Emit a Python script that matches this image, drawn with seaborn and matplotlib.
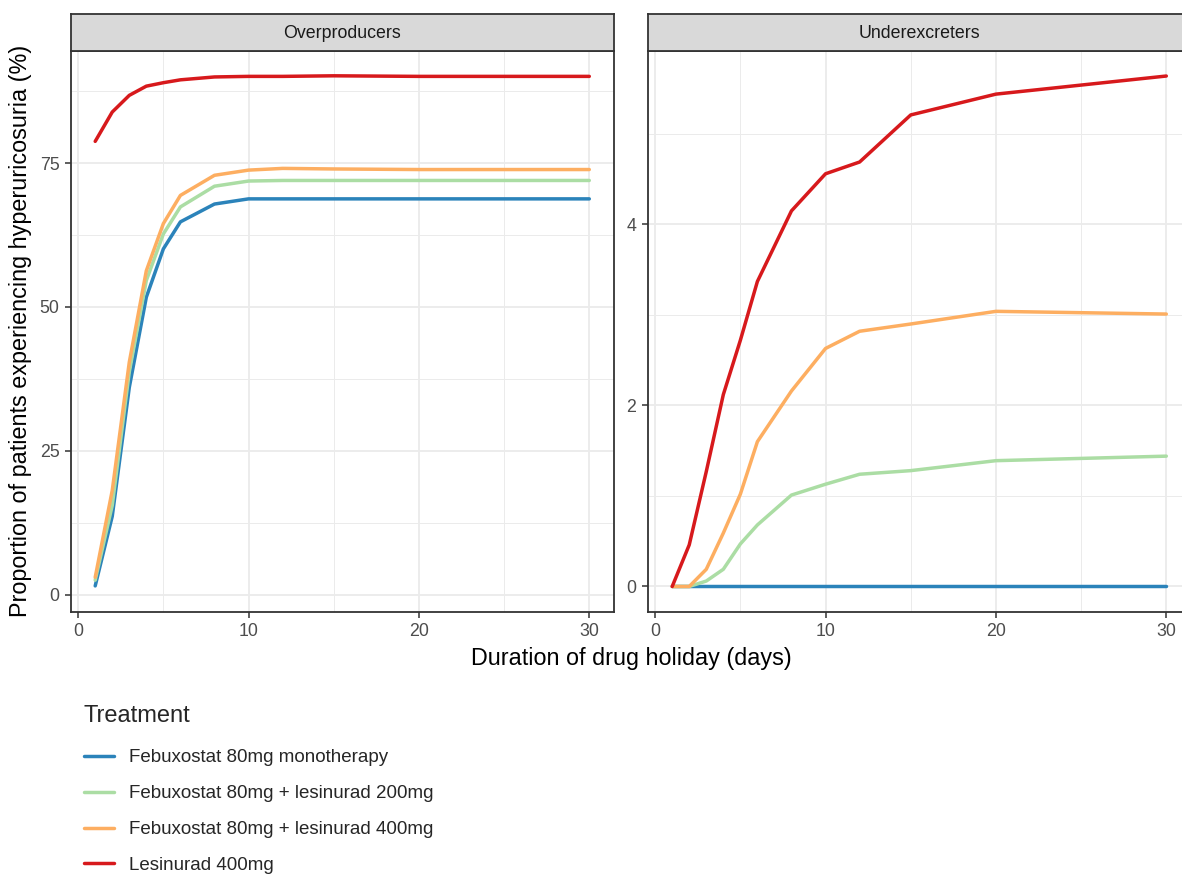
import numpy as np
import pandas as pd
import matplotlib
matplotlib.use("Agg")
import matplotlib.pyplot as plt
from matplotlib.lines import Line2D
from matplotlib.ticker import FixedLocator
import seaborn as sns

# ---------------- data ----------------
days = [1, 2, 3, 4, 5, 6, 8, 10, 12, 15, 20, 30]

treatments = [
    "Febuxostat 80mg monotherapy",
    "Febuxostat 80mg + lesinurad 200mg",
    "Febuxostat 80mg + lesinurad 400mg",
    "Lesinurad 400mg",
]
colors = ["#2B83BA", "#ABDDA4", "#FDAE61", "#D7191C"]
facets = ["Overproducers", "Underexcreters"]

# Overproducers (%)
over_feb = [1.5, 13.6, 36.0, 51.7, 60.1, 64.8, 67.9, 68.8, 68.8, 68.8, 68.8, 68.8]
over_l200 = [2.5, 15.5, 38.7, 54.6, 62.7, 67.4, 71.0, 71.9, 72.0, 72.0, 72.0, 72.0]
over_l400 = [3.0, 18.1, 40.4, 56.3, 64.5, 69.4, 72.9, 73.8, 74.1, 74.0, 73.9, 73.9]
over_les = [78.8, 83.9, 86.8, 88.4, 89.0, 89.5, 90.0, 90.1, 90.1, 90.2, 90.1, 90.1]

# Underexcreters (%)
under_feb = [0, 0, 0, 0, 0, 0, 0, 0, 0, 0, 0, 0]
under_l200 = [0, 0, 0.06, 0.19, 0.47, 0.68, 1.01, 1.13, 1.24, 1.28, 1.39, 1.44]
under_l400 = [0, 0, 0.19, 0.59, 1.02, 1.60, 2.16, 2.63, 2.82, 2.90, 3.04, 3.01]
under_les = [0, 0.46, 1.27, 2.12, 2.72, 3.37, 4.15, 4.56, 4.69, 5.21, 5.44, 5.64]

series = {
    "Overproducers": [over_feb, over_l200, over_l400, over_les],
    "Underexcreters": [under_feb, under_l200, under_l400, under_les],
}

rows = []
for facet in facets:
    for t, vals in zip(treatments, series[facet]):
        for d, v in zip(days, vals):
            rows.append({"facet": facet, "day": d, "value": v, "Treatment": t})
df = pd.DataFrame(rows)

palette = dict(zip(treatments, colors))

# ---------------- style ----------------
sns.set_theme(style="white")
plt.rcParams["font.family"] = ["Liberation Sans", "DejaVu Sans"]

W, H = 1182, 874
fig = plt.figure(figsize=(W / 100, H / 100), dpi=100)

def fx(px):
    return px / W

def fy(py):
    return 1 - py / H

panel_top, panel_bot = 50.5, 612.0
strip_top = 13.7
panel_w = 543.5
lefts = [70.5, 647.5]

grey20 = "#333333"
tick_fs = 12.8
title_fs = 16.8

ylims = {"Overproducers": (-3.04, 94.6), "Underexcreters": (-0.282, 5.922)}
yticks = {"Overproducers": [0, 25, 50, 75], "Underexcreters": [0, 2, 4]}
yminor = {"Overproducers": [12.5, 37.5, 62.5, 87.5], "Underexcreters": [1, 3, 5]}

for facet, left in zip(facets, lefts):
    ax = fig.add_axes([fx(left), fy(panel_bot), fx(panel_w), (panel_bot - panel_top) / H])
    sub = df[df["facet"] == facet]
    sns.lineplot(data=sub, x="day", y="value", hue="Treatment", hue_order=treatments,
                 palette=palette, estimator=None, sort=True, legend=False,
                 linewidth=2.5, ax=ax, zorder=3)
    ax.set_xlim(-0.45, 31.45)
    ax.set_ylim(*ylims[facet])
    ax.xaxis.set_major_locator(FixedLocator([0, 10, 20, 30]))
    ax.xaxis.set_minor_locator(FixedLocator([5, 15, 25]))
    ax.yaxis.set_major_locator(FixedLocator(yticks[facet]))
    ax.yaxis.set_minor_locator(FixedLocator(yminor[facet]))
    ax.grid(which="major", color="#EBEBEB", linewidth=1.3, zorder=0)
    ax.grid(which="minor", color="#EBEBEB", linewidth=0.7, zorder=0)
    ax.set_axisbelow(True)
    ax.set_facecolor("white")
    for s in ax.spines.values():
        s.set_color(grey20)
        s.set_linewidth(1.3)
        s.set_visible(True)
    ax.tick_params(which="major", length=4, width=1.1, color=grey20,
                   labelsize=tick_fs, labelcolor="#4D4D4D", pad=4,
                   bottom=True, left=True)
    ax.tick_params(which="minor", length=0)
    ax.set_xlabel("")
    ax.set_ylabel("")

    # facet strip
    sax = fig.add_axes([fx(left), fy(panel_top), fx(panel_w), (panel_top - strip_top) / H])
    sax.set_facecolor("#D9D9D9")
    sax.set_xticks([])
    sax.set_yticks([])
    for s in sax.spines.values():
        s.set_color(grey20)
        s.set_linewidth(1.3)
    sax.text(0.5, 0.47, facet, ha="center", va="center", fontsize=12.8,
             color="#1A1A1A", transform=sax.transAxes)

fig.text(fx(631), fy(659), "Duration of drug holiday (days)", ha="center", va="center",
         fontsize=title_fs, color="black")
fig.text(fx(21), fy(331), "Proportion of patients experiencing hyperuricosuria (%)",
         ha="center", va="center", rotation=90, fontsize=title_fs, color="black")

handles = [Line2D([0], [0], color=c, linewidth=2.5) for c in colors]
leg = fig.legend(handles, treatments, loc="upper left", bbox_to_anchor=(fx(84), fy(705)),
                 frameon=False, title="Treatment", title_fontsize=17,
                 fontsize=13.5, handlelength=1.6, handletextpad=0.8,
                 labelspacing=1.0, borderpad=0, borderaxespad=0, alignment="left")
leg._legend_box.sep = 16

fig.savefig("out.png", dpi=100)
